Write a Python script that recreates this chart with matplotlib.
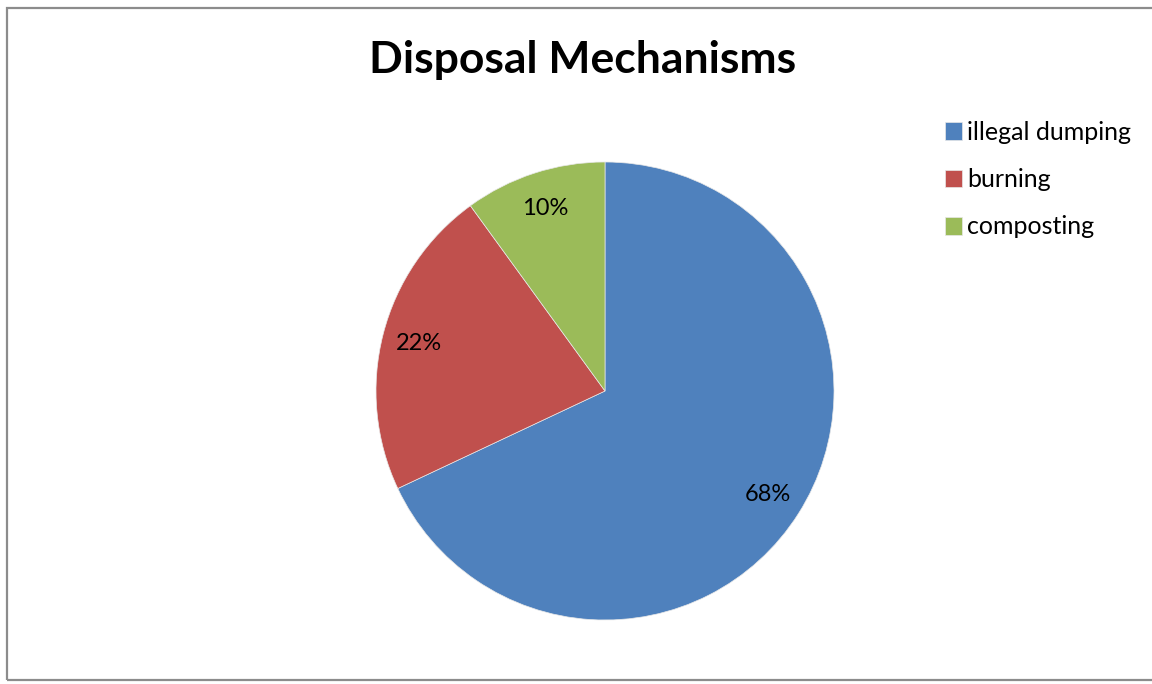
import matplotlib.pyplot as plt
from matplotlib.patches import Rectangle

categories = ["illegal dumping", "burning", "composting"]
shares = [68, 22, 10]
colors = ["#4F81BD", "#C0504D", "#9BBB59"]

plt.rcParams['font.family'] = ['Lato', 'DejaVu Sans']

W, H = 1152, 684
fig = plt.figure(figsize=(W / 100, H / 100), dpi=100)
fig.patch.set_facecolor("white")

# chart frame, running off the right edge
fig.patches.append(Rectangle((7 / W, 4 / H), 1.2, 672 / H, transform=fig.transFigure,
                             fill=False, edgecolor="#8c8c8c", linewidth=1.6))

cx, cy, r = 605, 391, 229
ax = fig.add_axes([(cx - r) / W, (H - cy - r) / H, 2 * r / W, 2 * r / H])
wedges, texts, autotexts = ax.pie(
    shares, colors=colors, startangle=90, counterclock=False, radius=1,
    autopct="%d%%", pctdistance=0.84,
    wedgeprops=dict(edgecolor="#e8e8e8", linewidth=0.5),
    textprops=dict(fontsize=17, color="black"))
ax.set_xlim(-1, 1)
ax.set_ylim(-1, 1)
ax.set_aspect("equal")
ax.axis("off")

fig.text(583 / W, 1 - 60 / H, "Disposal Mechanisms", ha="center", va="center",
         fontsize=32, fontweight="bold")

fig.legend(wedges, categories, loc="upper left", bbox_to_anchor=(922 / W, 1 - 98 / H),
           frameon=False, fontsize=18, handlelength=0.7, handleheight=0.7,
           handletextpad=0.2, labelspacing=0.98)

fig.savefig("out.png", dpi=100)
